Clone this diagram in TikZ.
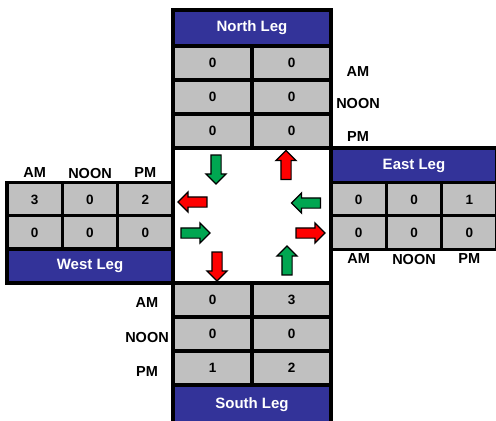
\documentclass[tikz,border=0pt]{standalone}
\usepackage{fontspec}
\setmainfont{Liberation Sans}
\usetikzlibrary{shapes.arrows}
\definecolor{legblue}{RGB}{51,51,153}
\definecolor{cellgray}{RGB}{192,192,192}
\definecolor{arrowgreen}{RGB}{0,166,81}
\definecolor{arrowred}{RGB}{255,0,0}

\begin{document}
\begin{tikzpicture}[x=1bp, y=-1bp, font=\bfseries\fontsize{13.5bp}{15bp}\selectfont,
  cell/.style={draw, line width=3.5bp, fill=cellgray, minimum height=34bp, inner sep=0pt},
  ncell/.style={cell, minimum width=79bp},
  wcell/.style={cell, minimum width=55.33bp},
  leg/.style={draw, line width=3.5bp, fill=legblue, text=white, inner sep=0pt, font=\bfseries\fontsize{15bp}{17bp}\selectfont},
  lab/.style={inner sep=0pt, font=\bfseries\fontsize{14.5bp}{16bp}\selectfont},
  arr/.style={single arrow, draw, line width=1.2bp, inner sep=4.5bp, minimum height=29bp, single arrow head extend=5bp}]
\useasboundingbox (0,0) rectangle (496,420);
\clip (0,0) rectangle (496,420);

% north leg
\node[leg, minimum width=158bp, minimum height=36bp] (north) at (252,28) {North Leg};
\node[ncell] (n11) at (212.5,63) {0};
\node[ncell] (n12) at (291.5,63) {0};
\node[ncell] (n21) at (212.5,97) {0};
\node[ncell] (n22) at (291.5,97) {0};
\node[ncell] (n31) at (212.5,131) {0};
\node[ncell] (n32) at (291.5,131) {0};
\node[lab] (nam) at (358,72) {AM};
\node[lab] (nnoon) at (358,104) {NOON};
\node[lab] (npm) at (358,137) {PM};

% intersection
\node[draw, line width=3.5bp, fill=white, minimum width=158bp, minimum height=135bp] (box) at (252,215.5) {};

% west leg
\node[wcell] (w11) at (34.67,199.5) {3};
\node[wcell] (w12) at (90,199.5) {0};
\node[wcell] (w13) at (145.33,199.5) {2};
\node[wcell] (w21) at (34.67,232.5) {0};
\node[wcell] (w22) at (90,232.5) {0};
\node[wcell] (w23) at (145.33,232.5) {0};
\node[leg, minimum width=166bp, minimum height=34bp] (west) at (90,266) {West Leg};
\node[lab] (wam) at (34.67,173) {AM};
\node[lab] (wnoon) at (90,173) {NOON};
\node[lab] (wpm) at (145.33,173) {PM};

% east leg
\node[leg, minimum width=166bp, minimum height=35bp] (east) at (414,165.5) {East Leg};
\node[wcell] (e11) at (358.67,199.5) {0};
\node[wcell] (e12) at (414,199.5) {0};
\node[wcell] (e13) at (469.33,199.5) {1};
\node[wcell] (e21) at (358.67,232.5) {0};
\node[wcell] (e22) at (414,232.5) {0};
\node[wcell] (e23) at (469.33,232.5) {0};
\node[lab] (eam) at (358.67,259) {AM};
\node[lab] (enoon) at (414,259) {NOON};
\node[lab] (epm) at (469.33,259) {PM};

% south leg
\node[ncell] (s11) at (212.5,300) {0};
\node[ncell] (s12) at (291.5,300) {3};
\node[ncell] (s21) at (212.5,334) {0};
\node[ncell] (s22) at (291.5,334) {0};
\node[ncell] (s31) at (212.5,368) {1};
\node[ncell] (s32) at (291.5,368) {2};
\node[leg, minimum width=158bp, minimum height=40bp] (south) at (252,405) {South Leg};
\node[lab] (sam) at (147,303) {AM};
\node[lab] (snoon) at (147,337) {NOON};
\node[lab] (spm) at (147,371) {PM};

% movements
\node[arr, fill=arrowgreen, shape border rotate=270] (nin) at (216,167) {};
\node[arr, fill=arrowred, shape border rotate=90] (nout) at (286,167.5) {};
\node[arr, fill=arrowred, shape border rotate=180] (wout) at (195,202) {};
\node[arr, fill=arrowgreen, shape border rotate=0] (win) at (193,233) {};
\node[arr, fill=arrowgreen, shape border rotate=180] (ein) at (308.5,203) {};
\node[arr, fill=arrowred, shape border rotate=0] (eout) at (308,233) {};
\node[arr, fill=arrowred, shape border rotate=270] (sout) at (217,264) {};
\node[arr, fill=arrowgreen, shape border rotate=90] (sin) at (287,263) {};
\end{tikzpicture}
\end{document}
